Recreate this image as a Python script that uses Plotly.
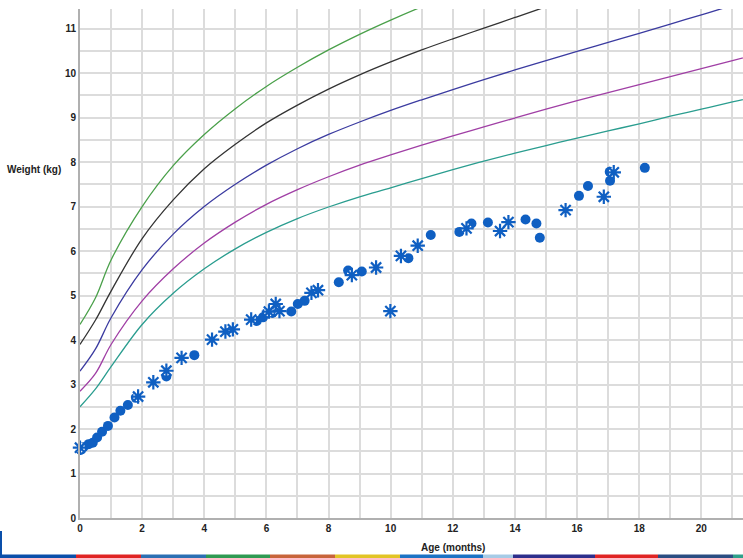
import plotly.graph_objects as go

# ---- Reference curves (weight in kg by age in months) ----
curve_age = [0, 0.5, 1, 2, 3, 4, 5, 6, 7, 8, 9, 10, 11, 12, 13, 14, 15, 16, 17, 18, 19, 20, 21, 22]
curve_p3 = [2.5, 2.9, 3.4, 4.35, 5.05, 5.6, 6.05, 6.42, 6.73, 6.99, 7.22, 7.42, 7.63, 7.83, 8.02, 8.2, 8.37, 8.54, 8.7, 8.86, 9.03, 9.19, 9.35, 9.5]
curve_p15 = [2.85, 3.25, 3.9, 4.88, 5.6, 6.18, 6.65, 7.05, 7.38, 7.67, 7.93, 8.16, 8.38, 8.59, 8.79, 8.99, 9.19, 9.38, 9.56, 9.74, 9.92, 10.1, 10.28, 10.46]
curve_p50 = [3.3, 3.8, 4.5, 5.58, 6.38, 7.0, 7.5, 7.93, 8.3, 8.62, 8.9, 9.16, 9.4, 9.63, 9.85, 10.07, 10.28, 10.49, 10.69, 10.89, 11.1, 11.31, 11.52, 11.72]
curve_p85 = [3.9, 4.45, 5.1, 6.28, 7.15, 7.85, 8.4, 8.88, 9.28, 9.64, 9.96, 10.25, 10.52, 10.77, 11.01, 11.25, 11.49, 11.72, 11.95, 12.18, 12.41, 12.64, 12.87, 13.1]
curve_p97 = [4.35, 4.95, 5.8, 7.0, 7.92, 8.62, 9.2, 9.7, 10.13, 10.52, 10.87, 11.19, 11.49, 11.77, 12.04, 12.3, 12.55, 12.8, 13.04, 13.28, 13.51, 13.74, 13.97, 14.2]

# ---- Measurements: filled circles ----
circle_age = [0.02, 0.11, 0.28, 0.41, 0.55, 0.71, 0.90, 1.11, 1.30, 1.54, 1.80, 2.78, 3.68,
              5.69, 5.89, 6.02, 6.19, 6.80, 7.01, 7.23, 8.33, 8.63, 9.07, 10.57, 11.29,
              12.21, 12.60, 13.13, 14.34, 14.69, 14.80, 16.06, 16.35, 17.06, 17.05, 18.18]
circle_weight = [1.53, 1.59, 1.66, 1.69, 1.81, 1.94, 2.07, 2.26, 2.41, 2.54, 2.70, 3.18, 3.66,
                 4.43, 4.51, 4.61, 4.61, 4.64, 4.81, 4.88, 5.30, 5.56, 5.54, 5.84, 6.36,
                 6.43, 6.62, 6.64, 6.71, 6.62, 6.30, 7.24, 7.46, 7.58, 7.78, 7.87]

# ---- Measurements: asterisks ----
star_age = [0.0, 1.87, 2.36, 2.78, 3.27, 4.25, 4.68, 4.92, 5.51, 6.08, 6.30, 6.42, 7.45,
            7.66, 8.75, 9.53, 9.99, 10.33, 10.87, 12.44, 13.52, 13.79, 15.63, 16.86, 17.18]
star_weight = [1.58, 2.73, 3.05, 3.31, 3.60, 4.01, 4.19, 4.24, 4.46, 4.64, 4.81, 4.65, 5.06,
               5.12, 5.46, 5.63, 4.65, 5.89, 6.12, 6.51, 6.45, 6.65, 6.92, 7.22, 7.77]

x_ticks = [0, 2, 4, 6, 8, 10, 12, 14, 16, 18, 20]
y_ticks = [0, 1, 2, 3, 4, 5, 6, 7, 8, 9, 10, 11]

W, H = 743, 558
ML, MR, MT, MB = 80, 0, 9, 40
PW, PH = W - ML - MR, H - MT - MB


def px(x):
    return (x - ML) / PW


def py(y):
    return (H - MB - y) / PH


MARK = "#0f5fc2"
fig = go.Figure()

curves = [
    (curve_p3, "#2a9d8f"),
    (curve_p15, "#a03fa5"),
    (curve_p50, "#3b3ba0"),
    (curve_p85, "#333333"),
    (curve_p97, "#4aa04a"),
]
for vals, col in curves:
    fig.add_trace(go.Scatter(x=curve_age, y=vals, mode="lines",
                             line=dict(color=col, width=1.3, shape="spline", smoothing=1.0),
                             hoverinfo="skip", showlegend=False))

fig.add_trace(go.Scatter(x=circle_age, y=circle_weight, mode="markers",
                         marker=dict(symbol="circle", size=10, color=MARK),
                         showlegend=False, cliponaxis=False))
fig.add_trace(go.Scatter(x=star_age, y=star_weight, mode="markers",
                         marker=dict(symbol="circle", size=10, color="white"),
                         showlegend=False, hoverinfo="skip", cliponaxis=False))
fig.add_trace(go.Scatter(x=star_age, y=star_weight, mode="markers",
                         marker=dict(symbol="asterisk-open", size=12, color=MARK,
                                     line=dict(color=MARK, width=2.2)),
                         showlegend=False, cliponaxis=False))

FONT = "Liberation Sans Narrow, Arial Narrow, Liberation Sans, Arial"
tickfont = dict(family=FONT, size=10, color="#222222", weight="bold")

fig.update_xaxes(range=[0, 21.34],
                 tickvals=x_ticks, ticktext=[str(v) for v in x_ticks],
                 showgrid=True, gridcolor="#dcdcdc", gridwidth=1.5,
                 minor=dict(dtick=1, tick0=0, showgrid=True, gridcolor="#dcdcdc", gridwidth=1.5),
                 showline=True, linecolor="#b0b0b0", linewidth=2,
                 zeroline=False, ticks="", tickfont=tickfont, fixedrange=True)
fig.update_yaxes(range=[0, 11.44],
                 tickvals=y_ticks, ticktext=[str(v) for v in y_ticks],
                 showgrid=True, gridcolor="#dcdcdc", gridwidth=1.5,
                 minor=dict(dtick=0.5, tick0=0, showgrid=True, gridcolor="#dcdcdc", gridwidth=1.5),
                 showline=True, linecolor="#b0b0b0", linewidth=2,
                 zeroline=False, ticks="", tickfont=tickfont, fixedrange=True)

labfont = dict(family=FONT, size=10, color="#222222", weight="bold")
fig.add_annotation(text="Weight (kg)", xref="paper", yref="paper",
                   x=px(34.5), y=py(169), showarrow=False, font=labfont,
                   xanchor="center", yanchor="middle")
fig.add_annotation(text="Age (months)", xref="paper", yref="paper",
                   x=px(453), y=py(547), showarrow=False, font=labfont,
                   xanchor="center", yanchor="middle")

# decorative page strip at the bottom
strip = [(0, 76, "#0a4faa"), (76, 141, "#e02424"), (141, 206, "#2b6fb3"),
         (206, 270, "#2e9a52"), (270, 335, "#c8643a"), (335, 400, "#e2c425"),
         (400, 483, "#1b72c4"), (483, 513, "#a6cbe6"), (513, 595, "#2d2e8c"),
         (595, 658, "#e02424"), (658, 733, "#2a4d82"), (733, 743, "#2ea08a")]
shapes = []
for x0, x1, c in strip:
    shapes.append(dict(type="rect", xref="paper", yref="paper",
                       x0=px(x0), x1=px(x1), y0=py(558), y1=py(554.5),
                       fillcolor=c, line=dict(width=0), layer="above"))
shapes.append(dict(type="rect", xref="paper", yref="paper",
                   x0=px(0), x1=px(2), y0=py(555), y1=py(531),
                   fillcolor="#0a4faa", line=dict(width=0), layer="above"))

fig.update_layout(width=W, height=H, margin=dict(l=ML, r=MR, t=MT, b=MB),
                  paper_bgcolor="white", plot_bgcolor="white",
                  showlegend=False, shapes=shapes)

fig.write_html("out.html", config={"displayModeBar": False},
               post_script="document.body.style.margin='0';document.body.style.overflow='hidden';")
